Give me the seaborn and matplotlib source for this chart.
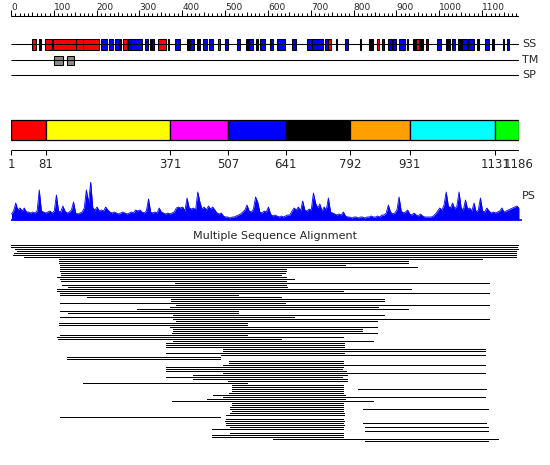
import matplotlib
matplotlib.use("Agg")
import matplotlib.pyplot as plt
import numpy as np
import pandas as pd
import seaborn as sns

# ---------------- data ----------------
SEQ_LEN = 1186
ruler_ticks = list(range(0, 1101, 100))

# secondary structure elements (residue start, end, type: H=red, E=blue, C=black)
ss_start = [49, 66, 79, 98, 152, 168, 210, 229, 243, 254, 261, 273, 280, 313, 324, 329, 343, 366,
            383, 411, 418, 434, 448, 462, 483, 499, 527, 548, 555, 571, 581, 604, 620, 655, 690,
            702, 714, 732, 739, 758, 779, 814, 835, 854, 865, 879, 893, 907, 924, 938, 945, 952,
            968, 994, 1015, 1029, 1043, 1054, 1068, 1087, 1106, 1122, 1148, 1157]
ss_end = [58, 69, 96, 152, 168, 205, 224, 238, 252, 256, 271, 280, 306, 320, 326, 334, 362, 368,
          394, 418, 427, 441, 457, 471, 488, 506, 534, 555, 565, 576, 592, 611, 639, 665, 702,
          714, 728, 739, 746, 760, 786, 816, 844, 858, 870, 889, 898, 919, 928, 945, 952, 961,
          973, 1003, 1024, 1036, 1052, 1064, 1080, 1092, 1117, 1127, 1152, 1162]
ss_type = ["H", "C", "H", "H", "H", "H", "E", "E", "E", "C", "H", "E", "E", "E", "C", "E", "H", "C",
           "E", "C", "E", "C", "E", "E", "H", "E", "E", "C", "E", "C", "E", "E", "E", "E", "E",
           "E", "E", "E", "H", "C", "E", "C", "C", "H", "E", "E", "E", "E", "E", "C", "H", "C",
           "E", "E", "C", "E", "C", "E", "E", "C", "E", "C", "E", "E"]

# transmembrane segments
tm_start = [100, 131]
tm_end = [121, 147]

# domains
dom_bounds = [1, 81, 371, 507, 641, 792, 931, 1131, 1186]
dom_colors = ["#FF0000", "#FFFF00", "#FF00FF", "#0000FF", "#000000", "#FFA000", "#00FFFF", "#00FF00"]

# PS profile, one value every 5 residues starting at residue 1
ps_step = 5
ps_values = [
    6, 9, 17, 10, 12, 9, 12, 8, 8, 7, 8, 7, 9, 30, 9, 8, 7, 8, 9, 7,
    9, 25, 9, 8, 14, 9, 7, 8, 10, 18, 7, 6, 7, 8, 12, 30, 17, 38, 12, 10,
    13, 9, 10, 9, 13, 10, 8, 7, 8, 7, 6, 7, 8, 7, 6, 7, 8, 7, 10, 9,
    10, 8, 7, 9, 21, 8, 7, 8, 7, 12, 8, 7, 6, 7, 6, 7, 8, 12, 13, 12,
    13, 9, 22, 12, 11, 12, 10, 28, 18, 11, 13, 10, 14, 11, 13, 10, 7, 6, 7, 4,
    3, 3, 2, 3, 3, 4, 5, 6, 8, 10, 15, 9, 8, 11, 23, 18, 8, 7, 9, 8,
    13, 6, 4, 5, 4, 3, 4, 3, 4, 5, 5, 9, 12, 10, 13, 9, 19, 10, 9, 11,
    10, 27, 17, 12, 16, 9, 13, 10, 22, 8, 7, 6, 5, 6, 5, 8, 4, 3, 3, 2,
    3, 3, 2, 3, 3, 2, 3, 3, 4, 3, 3, 4, 3, 5, 5, 7, 15, 8, 6, 7,
    10, 23, 9, 7, 8, 10, 6, 5, 7, 5, 4, 6, 4, 3, 3, 3, 3, 4, 6, 9,
    12, 10, 15, 28, 14, 12, 17, 11, 14, 28, 12, 10, 20, 11, 12, 9, 17, 8, 10, 22,
    9, 8, 12, 9, 7, 8, 7, 8, 9, 12, 8, 9, 10, 11, 12, 13, 14, 12,
]

# multiple sequence alignment hits: row index, start residue, end residue
msa_row = list(range(1, 100)) + [73, 83, 90, 92]
msa_start = [1, 1, 9, 14, 7, 5, 30, 112, 112, 112, 114, 114, 114, 114, 117, 117, 107, 114, 117, 383,
             119, 133, 107, 107, 114, 114, 177, 373, 373, 114, 385, 371, 294, 114, 133, 378, 114, 378,
             385, 112, 112, 371, 378, 378, 376, 114, 107, 110, 378, 362, 362, 362, 495, 495, 362, 490,
             131, 131, 509, 509, 495, 362, 362, 362, 495, 425, 362, 425, 506, 168, 516, 516, 516, 516,
             509, 471, 495, 457, 376, 516, 516, 511, 511, 516, 511, 502, 114, 502, 499, 502, 502, 511,
             469, 826, 511, 469, 469, 611, 826,
             809, 821, 821, 826]
msa_end = [1186, 1182, 1185, 1180, 1180, 1180, 1180, 1099, 928, 928, 779, 949, 641, 641, 639, 630, 641,
           660, 641, 1115, 641, 644, 935, 774, 1115, 530, 630, 870, 870, 639, 1115, 856, 928, 530,
           530, 870, 660, 1115, 854, 550, 550, 854, 819, 819, 854, 550, 774, 630, 844, 777, 777, 777,
           1106, 1106, 777, 1106, 488, 488, 774, 774, 1106, 774, 772, 781, 1106, 784, 772, 784, 784,
           550, 774, 774, 774, 774, 774, 779, 1106, 779, 844, 774, 774, 774, 774, 774, 777, 777, 488,
           774, 777, 774, 777, 774, 774, 1113, 774, 774, 774, 1136, 1113,
           1110, 1113, 1110, 1113]

# ---------------- style ----------------
sns.set_theme(style="white")
plt.rcParams["font.family"] = ["DejaVu Sans"]

W, H = 550, 465
X0, X1 = 11, 519
fig = plt.figure(figsize=(W / 100, H / 100), dpi=100)
fig.patch.set_facecolor("white")

ax = fig.add_axes([X0 / W, 0, (X1 - X0) / W, 1])
ax.set_xlim(0, SEQ_LEN)
ax.set_ylim(H, 0)
ax.axis("off")

LW = 0.75
label_x = SEQ_LEN + 7

# ---- ruler ----
ax.hlines(16, 0, SEQ_LEN, color="black", lw=LW)
minor = np.arange(0, SEQ_LEN, 10)
mid = np.arange(50, SEQ_LEN, 100)
ax.vlines(minor, 13, 16, color="black", lw=LW)
ax.vlines(mid, 12, 16, color="black", lw=LW)
ax.vlines(ruler_ticks, 10, 16, color="black", lw=LW)
for t in ruler_ticks:
    ax.text(t, 10, str(t), ha="left", va="baseline", fontsize=6.5,
            family=["Liberation Sans Narrow", "DejaVu Sans"])

# ---- SS track ----
type_color = {"H": "#FF0000", "E": "#0000FF", "C": "#000000"}
ss = pd.DataFrame({"start": ss_start, "end": ss_end, "type": ss_type})
ax.hlines(44, 0, SEQ_LEN, color="black", lw=LW)
ax.bar(x=ss["start"], height=11, width=ss["end"] - ss["start"], bottom=39, align="edge",
       color=[type_color[t] for t in ss["type"]], edgecolor="black", linewidth=LW)
ax.text(label_x, 44, "SS", ha="left", va="center", fontsize=8, clip_on=False)

# ---- TM track ----
ax.hlines(60, 0, SEQ_LEN, color="black", lw=LW)
ax.bar(x=tm_start, height=9, width=np.subtract(tm_end, tm_start), bottom=56, align="edge",
       color="#888888", edgecolor="black", linewidth=LW)
ax.text(label_x, 60, "TM", ha="left", va="center", fontsize=8, clip_on=False)

# ---- SP track ----
ax.hlines(75, 0, SEQ_LEN, color="black", lw=LW)
ax.text(label_x, 75, "SP", ha="left", va="center", fontsize=8, clip_on=False)

# ---- domain bar ----
d_left = dom_bounds[:-1]
d_width = np.diff(dom_bounds)
ax.bar(x=d_left, height=20, width=d_width, bottom=120, align="edge",
       color=dom_colors, edgecolor="black", linewidth=0.9)
ax.hlines(150, dom_bounds[0], dom_bounds[-1], color="black", lw=LW)
ax.vlines(dom_bounds, 150, 155, color="black", lw=LW)
for b in dom_bounds:
    ax.text(b, 158, str(b), ha="center", va="top", fontsize=8.5)

# ---- PS profile ----
ps_pos = np.arange(1, 1 + ps_step * len(ps_values), ps_step)
ps = pd.DataFrame({"pos": ps_pos, "val": ps_values})
ax_ps = fig.add_axes([X0 / W, (H - 220) / H, (X1 - X0) / W, 38 / H])
ax_ps.set_xlim(0, SEQ_LEN)
ax_ps.set_ylim(0, 38)
ax_ps.axis("off")
ax_ps.fill_between(ps["pos"], 0, ps["val"], color="#0000FF", lw=0)
sns.lineplot(data=ps, x="pos", y="val", ax=ax_ps, color="#0000FF", lw=0.6)
ax_ps.hlines(0, 0, SEQ_LEN + 8, color="#0000FF", lw=1.2, clip_on=False)
ax_ps.text(label_x, 24, "PS", ha="left", va="center", fontsize=8, clip_on=False)

# ---- MSA ----
ax.text(616, 236, "Multiple Sequence Alignment", ha="center", va="center", fontsize=8)
msa = pd.DataFrame({"row": msa_row, "start": msa_start, "end": msa_end})
ax.hlines(243 + 2 * msa["row"], msa["start"], msa["end"], color="black",
          lw=0.72, antialiased=False)

fig.savefig("out.png", dpi=100, facecolor="white")
